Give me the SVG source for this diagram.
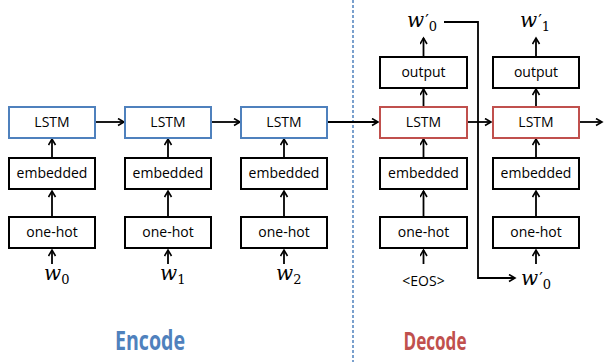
<svg xmlns="http://www.w3.org/2000/svg" width="604" height="362" viewBox="0 0 604 362">
<defs>
<marker id="ah" markerWidth="10" markerHeight="10" refX="7" refY="4" orient="auto" markerUnits="userSpaceOnUse">
<path d="M1,0.5 L7,4 L1,7.5" fill="none" stroke="#000" stroke-width="1.6"/>
</marker>
<style>
.box{fill:#fff;stroke:#000;stroke-width:2}
.enc{fill:#fff;stroke:#4f81bd;stroke-width:2}
.dec{fill:#fff;stroke:#c0504d;stroke-width:2}
.lbl{font-family:"Open Sans","Liberation Sans",sans-serif;font-size:14px;fill:#000;text-anchor:middle}
.w{font-family:"DejaVu Serif","Liberation Serif",serif;font-style:italic;font-weight:normal;font-size:20px;fill:#000}
.sub{font-family:"DejaVu Serif","Liberation Serif",serif;font-style:normal;font-size:13px;fill:#000}
.pr{font-family:"DejaVu Serif","Liberation Serif",serif;font-style:normal;font-size:16px;fill:#000}
.c{fill:none;stroke:#000;stroke-width:1.8}
.a{marker-end:url(#ah)}
</style>
</defs>
<rect width="604" height="362" fill="#fff"/>
<line x1="353" y1="0" x2="353" y2="362" stroke="#4f81bd" stroke-width="1.5" stroke-dasharray="3,2"/>

<g id="connectors">
<line class="c a" x1="52" y1="264" x2="52" y2="250"/>
<line class="c a" x1="52" y1="217" x2="52" y2="191"/>
<line class="c a" x1="52" y1="158" x2="52" y2="139"/>
<line class="c a" x1="168" y1="264" x2="168" y2="250"/>
<line class="c a" x1="168" y1="217" x2="168" y2="191"/>
<line class="c a" x1="168" y1="158" x2="168" y2="139"/>
<line class="c a" x1="284" y1="264" x2="284" y2="250"/>
<line class="c a" x1="284" y1="217" x2="284" y2="191"/>
<line class="c a" x1="284" y1="158" x2="284" y2="139"/>
<line class="c a" x1="95" y1="122" x2="124" y2="122"/>
<line class="c a" x1="211" y1="122" x2="240" y2="122"/>
<line class="c a" x1="327" y1="122" x2="378" y2="122"/>
<line class="c a" x1="467" y1="122" x2="491" y2="122"/>
<line class="c a" x1="579" y1="122" x2="602" y2="122"/>
<line class="c a" x1="423.5" y1="264" x2="423.5" y2="250"/>
<line class="c a" x1="423.5" y1="217" x2="423.5" y2="191"/>
<line class="c a" x1="423.5" y1="158" x2="423.5" y2="139"/>
<line class="c a" x1="423.5" y1="107" x2="423.5" y2="89"/>
<line class="c a" x1="423.5" y1="57" x2="423.5" y2="38"/>
<line class="c a" x1="536" y1="264" x2="536" y2="250"/>
<line class="c a" x1="536" y1="217" x2="536" y2="191"/>
<line class="c a" x1="536" y1="158" x2="536" y2="139"/>
<line class="c a" x1="536" y1="107" x2="536" y2="89"/>
<line class="c a" x1="536" y1="57" x2="536" y2="38"/>
<polyline class="c a" points="444,22 478,22 478,278 515,278"/>
</g>

<g id="enc1">
<rect class="enc" x="9" y="107" width="86" height="31"/><text class="lbl" x="52" y="127">LSTM</text>
<rect class="box" x="9" y="158" width="86" height="31"/><text class="lbl" x="52" y="178">embedded</text>
<rect class="box" x="9" y="217" width="86" height="31"/><text class="lbl" x="52" y="237">one-hot</text>
<text class="w" x="44" y="280">w<tspan class="sub" dy="4">0</tspan></text>
</g>
<g id="enc2">
<rect class="enc" x="125" y="107" width="86" height="31"/><text class="lbl" x="168" y="127">LSTM</text>
<rect class="box" x="125" y="158" width="86" height="31"/><text class="lbl" x="168" y="178">embedded</text>
<rect class="box" x="125" y="217" width="86" height="31"/><text class="lbl" x="168" y="237">one-hot</text>
<text class="w" x="160" y="280">w<tspan class="sub" dy="4">1</tspan></text>
</g>
<g id="enc3">
<rect class="enc" x="241" y="107" width="86" height="31"/><text class="lbl" x="284" y="127">LSTM</text>
<rect class="box" x="241" y="158" width="86" height="31"/><text class="lbl" x="284" y="178">embedded</text>
<rect class="box" x="241" y="217" width="86" height="31"/><text class="lbl" x="284" y="237">one-hot</text>
<text class="w" x="276" y="280">w<tspan class="sub" dy="4">2</tspan></text>
</g>
<g id="dec1">
<rect class="box" x="380" y="57" width="87" height="31"/><text class="lbl" x="423.5" y="77">output</text>
<rect class="dec" x="380" y="107" width="87" height="31"/><text class="lbl" x="423.5" y="127">LSTM</text>
<rect class="box" x="380" y="158" width="87" height="31"/><text class="lbl" x="423.5" y="178">embedded</text>
<rect class="box" x="380" y="217" width="87" height="31"/><text class="lbl" x="423.5" y="237">one-hot</text>
<text class="lbl" x="423.5" y="286" font-size="12">&lt;EOS&gt;</text>
<text class="w" x="407" y="27">w<tspan class="pr" dx="1" dy="-1">′</tspan><tspan class="sub" dy="5">0</tspan></text>
</g>
<g id="dec2">
<rect class="box" x="493" y="57" width="86" height="31"/><text class="lbl" x="536" y="77">output</text>
<rect class="dec" x="493" y="107" width="86" height="31"/><text class="lbl" x="536" y="127">LSTM</text>
<rect class="box" x="493" y="158" width="86" height="31"/><text class="lbl" x="536" y="178">embedded</text>
<rect class="box" x="493" y="217" width="86" height="31"/><text class="lbl" x="536" y="237">one-hot</text>
<text class="w" x="520" y="27">w<tspan class="pr" dx="1" dy="-1">′</tspan><tspan class="sub" dy="5">1</tspan></text>
</g>
<text class="w" x="521" y="285">w<tspan class="pr" dx="1" dy="-1">′</tspan><tspan class="sub" dy="5">0</tspan></text>

<text x="150" y="350" font-family="'Open Sans','Liberation Sans',sans-serif" font-weight="bold" font-size="26" fill="#4f81bd" text-anchor="middle" textLength="70" lengthAdjust="spacingAndGlyphs">Encode</text>
<text x="435" y="350" font-family="'Open Sans','Liberation Sans',sans-serif" font-weight="bold" font-size="25" fill="#c0504d" text-anchor="middle" textLength="63" lengthAdjust="spacingAndGlyphs">Decode</text>
</svg>
